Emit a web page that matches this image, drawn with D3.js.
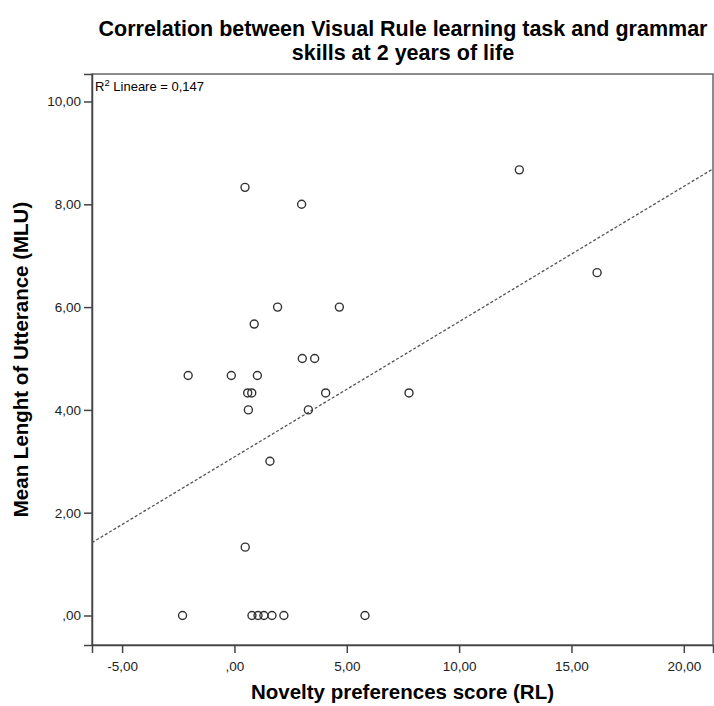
<!DOCTYPE html>
<html>
<head>
<meta charset="utf-8">
<script src="https://cdn.jsdelivr.net/npm/d3@7"></script>
<style>
  html, body { margin: 0; padding: 0; background: #fff; }
  svg { display: block; font-family: Arial, "Liberation Sans", sans-serif; }
</style>
</head>
<body>
<svg id="chart" width="714" height="706"></svg>
<script>
// Novelty preference score (RL) and mean length of utterance (MLU), one pair per child
const noveltyScore = [
  0.47, 2.99, 1.92, 4.67, 0.88, 3.02, 3.57, -2.06, -0.14, 1.02,
  0.59, 0.77, 4.06, 7.77, 0.62, 3.29, 12.68, 16.14, 1.58, 0.48,
  -2.31, 0.78, 1.05, 1.31, 1.67, 2.20, 5.81
];
const mlu = [
  8.33, 8.00, 6.00, 6.00, 5.67, 5.00, 5.00, 4.67, 4.67, 4.67,
  4.33, 4.33, 4.33, 4.33, 4.00, 4.00, 8.67, 6.67, 3.00, 1.33,
  0.00, 0.00, 0.00, 0.00, 0.00, 0.00, 0.00
];
const xTickValues = [-5, 0, 5, 10, 15, 20];
const yTickValues = [0, 2, 4, 6, 8, 10];
const titleLines = [
  "Correlation between Visual Rule learning task and grammar",
  "skills at 2 years of life"
];
const xTitle = "Novelty preferences score (RL)";
const yTitle = "Mean Lenght of Utterance (MLU)";

const svg = d3.select("#chart");
const plot = { left: 92, right: 713, top: 74, bottom: 645 };

const x = d3.scaleLinear().domain([-6.34, 21.3]).range([plot.left, plot.right]);
const y = d3.scaleLinear().domain([-0.574, 10.535]).range([plot.bottom, plot.top]);

// Italian number format, SPSS style: ",00" for zero
const it = d3.formatLocale({ decimal: ",", thousands: ".", grouping: [3], currency: ["€", ""], minus: "-" });
const fmt2 = it.format(".2f");
const spss = v => fmt2(v).replace(/^(-?)0,/, "$1,");

// Least squares fit
const n = noveltyScore.length;
const mx = d3.mean(noveltyScore), my = d3.mean(mlu);
let sxy = 0, sxx = 0, syy = 0;
for (let i = 0; i < n; i++) {
  const dx = noveltyScore[i] - mx, dy = mlu[i] - my;
  sxy += dx * dy; sxx += dx * dx; syy += dy * dy;
}
const slope = sxy / sxx;
const intercept = my - slope * mx;
const r2 = (sxy * sxy) / (sxx * syy);

// Title
svg.append("g").selectAll("text").data(titleLines).join("text")
  .attr("x", 403)
  .attr("y", (d, i) => 36 + i * 24)
  .attr("text-anchor", "middle")
  .attr("font-size", 21.5)
  .attr("font-weight", "bold")
  .attr("fill", "#000")
  .text(d => d);

// Clip region for the fit line
svg.append("clipPath").attr("id", "plotClip")
  .append("rect")
  .attr("x", plot.left).attr("y", plot.top)
  .attr("width", plot.right - plot.left).attr("height", plot.bottom - plot.top);

// Frame
svg.append("rect")
  .attr("x", plot.left).attr("y", plot.top)
  .attr("width", plot.right - plot.left).attr("height", plot.bottom - plot.top)
  .attr("fill", "none")
  .attr("stroke", "#666")
  .attr("stroke-width", 1.5);

// Axes
const xAxis = svg.append("g")
  .attr("transform", `translate(0,${plot.bottom})`)
  .call(d3.axisBottom(x).tickValues(xTickValues).tickFormat(spss).tickSizeOuter(0).tickSize(8).tickPadding(8));
const yAxis = svg.append("g")
  .attr("transform", `translate(${plot.left},0)`)
  .call(d3.axisLeft(y).tickValues(yTickValues).tickFormat(spss).tickSizeOuter(0).tickSize(8).tickPadding(3));
[xAxis, yAxis].forEach(g => {
  g.select(".domain").attr("stroke", "#444").attr("stroke-width", 1.5);
  g.selectAll(".tick line").attr("stroke", "#444").attr("stroke-width", 1.5);
  g.selectAll(".tick text")
    .attr("fill", "#222")
    .attr("font-size", 13.5)
    .attr("font-family", "Arial, 'Liberation Sans', sans-serif");
});

// Axis titles
svg.append("text")
  .attr("x", (plot.left + plot.right) / 2)
  .attr("y", 699)
  .attr("text-anchor", "middle")
  .attr("font-size", 20.5)
  .attr("font-weight", "bold")
  .attr("fill", "#000")
  .text(xTitle);
svg.append("text")
  .attr("transform", `translate(28,${(plot.top + plot.bottom) / 2}) rotate(-90)`)
  .attr("text-anchor", "middle")
  .attr("font-size", 20.5)
  .attr("font-weight", "bold")
  .attr("fill", "#000")
  .text(yTitle);

// Fit line
const [x0, x1] = x.domain();
svg.append("line")
  .attr("clip-path", "url(#plotClip)")
  .attr("x1", x(x0)).attr("y1", y(intercept + slope * x0))
  .attr("x2", x(x1)).attr("y2", y(intercept + slope * x1))
  .attr("stroke", "#555")
  .attr("stroke-width", 1.3)
  .attr("stroke-dasharray", "3,2");

// R² label
const r2Text = svg.append("text")
  .attr("x", 95).attr("y", 91)
  .attr("font-size", 13)
  .attr("fill", "#000");
r2Text.append("tspan").text("R");
r2Text.append("tspan").attr("dy", -5).attr("font-size", 9.5).text("2");
r2Text.append("tspan").attr("dy", 5).text(" Lineare = " + it.format(".3f")(r2));

// Points
svg.append("g").selectAll("circle")
  .data(d3.range(n))
  .join("circle")
  .attr("cx", i => x(noveltyScore[i]))
  .attr("cy", i => y(mlu[i]))
  .attr("r", 4)
  .attr("fill", "none")
  .attr("stroke", "#333")
  .attr("stroke-width", 1.4);
</script>
</body>
</html>
